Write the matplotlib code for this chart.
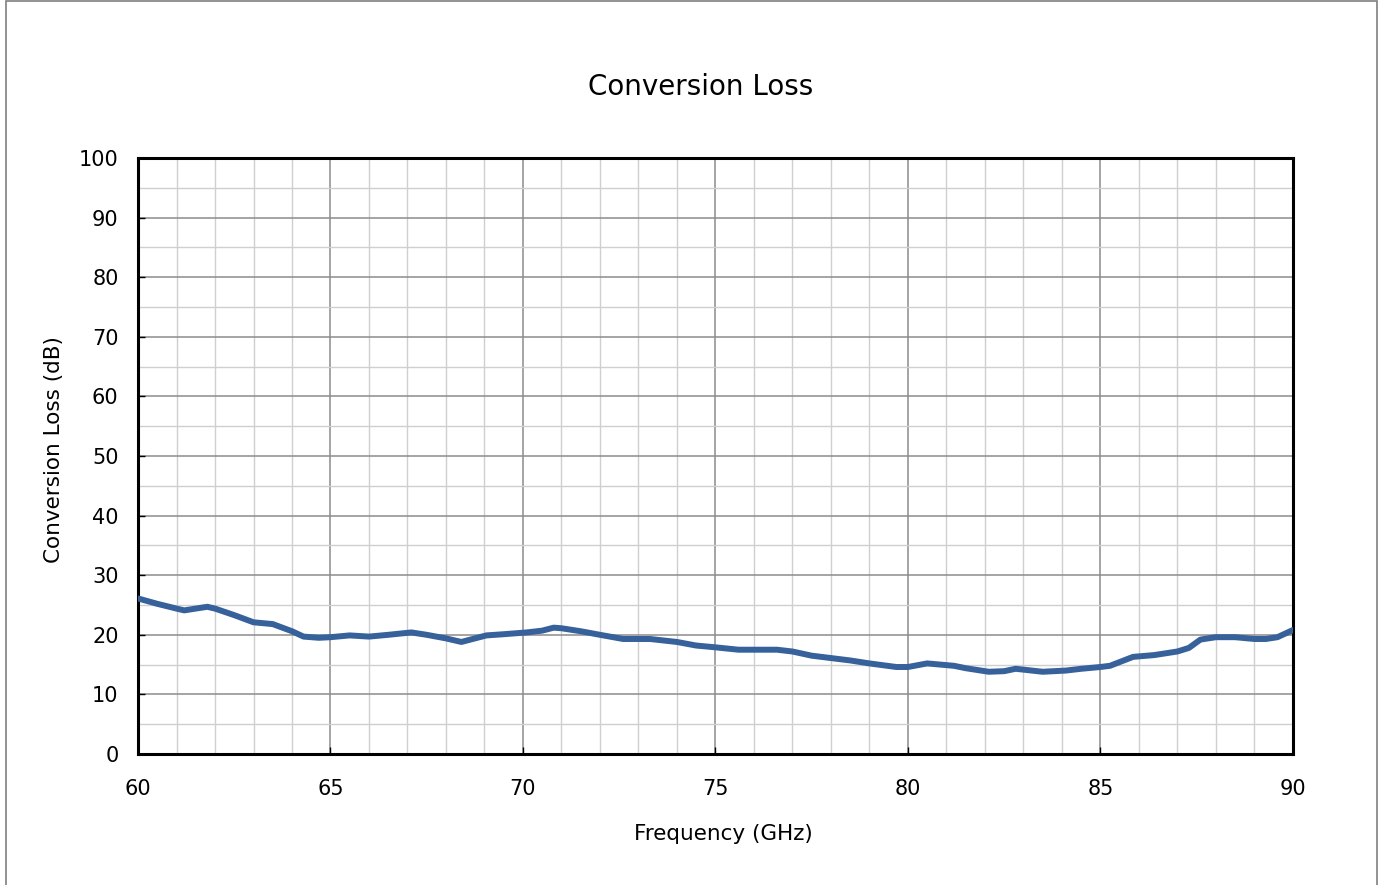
import numpy as np
import matplotlib.pyplot as plt
from matplotlib.patches import Rectangle

# conversion loss
freq_ghz = [60.0, 60.5, 61.0, 61.2, 61.8, 62.0, 62.5, 63.0, 63.5, 64.0, 64.3, 64.7,
            65.0, 65.5, 66.0, 66.5, 67.1, 67.5, 68.0, 68.4, 69.05, 69.5, 70.1, 70.5,
            70.8, 71.0, 71.5, 72.0, 72.6, 73.3, 74.0, 74.5, 75.0, 75.6, 76.0, 76.6,
            77.0, 77.5, 78.0, 78.5, 79.0, 79.7, 80.0, 80.5, 81.2, 81.5, 82.1, 82.5,
            82.8, 83.5, 84.1, 84.5, 85.0, 85.25, 85.85, 86.4, 87.0, 87.3, 87.6, 88.0,
            88.5, 89.0, 89.3, 89.6, 90.0]
loss_db = [26.1, 25.2, 24.4, 24.1, 24.7, 24.4, 23.3, 22.1, 21.8, 20.6, 19.7, 19.5,
           19.6, 19.9, 19.7, 20.0, 20.4, 20.0, 19.4, 18.8, 19.9, 20.1, 20.4, 20.7,
           21.2, 21.1, 20.6, 20.0, 19.3, 19.3, 18.8, 18.2, 17.9, 17.5, 17.5, 17.5,
           17.2, 16.5, 16.1, 15.7, 15.2, 14.6, 14.6, 15.2, 14.8, 14.4, 13.8, 13.9,
           14.3, 13.8, 14.0, 14.3, 14.6, 14.8, 16.3, 16.6, 17.2, 17.8, 19.2, 19.6,
           19.6, 19.3, 19.3, 19.6, 20.8]

fig = plt.figure(figsize=(13.83, 8.85), dpi=100)
ax = fig.add_axes([0.0998, 0.148, 0.835, 0.6735])

# figure frame
fig.patches.append(Rectangle((6 / 1383, -0.01), 1371 / 1383, 1.0 - 1 / 885 + 0.01,
                             transform=fig.transFigure, fill=False,
                             edgecolor='#7f7f7f', linewidth=1.2))

ax.plot(freq_ghz, loss_db, color='#37619a', linewidth=4.3,
        solid_capstyle='round', solid_joinstyle='round', zorder=3)

ax.set_xlim(60, 90)
ax.set_ylim(0, 100)
ax.set_xticks(np.arange(60, 91, 5))
ax.set_yticks(np.arange(0, 101, 10))
ax.set_xticks(np.arange(60, 91, 1), minor=True)
ax.set_yticks(np.arange(0, 101, 5), minor=True)
ax.grid(which='major', color='#8c8c8c', linewidth=1.1)
ax.grid(which='minor', color='#cfcfcf', linewidth=1.0)
ax.tick_params(which='major', direction='in', length=5, width=1, labelsize=15, pad=18)
ax.tick_params(axis='y', pad=14)
ax.tick_params(which='minor', length=0)
for s in ax.spines.values():
    s.set_linewidth(2.2)
    s.set_color('black')

fig.text(701 / 1383, 1 - 87 / 885, 'Conversion Loss', fontsize=20, ha='center', va='center')
ax.set_xlabel('Frequency (GHz)', fontsize=15.5)
ax.xaxis.set_label_coords(0.5065, -0.118)
ax.set_ylabel('Conversion Loss (dB)', fontsize=15.5)
ax.yaxis.set_label_coords(-0.064, 0.51)

fig.savefig('out.png', dpi=100)
